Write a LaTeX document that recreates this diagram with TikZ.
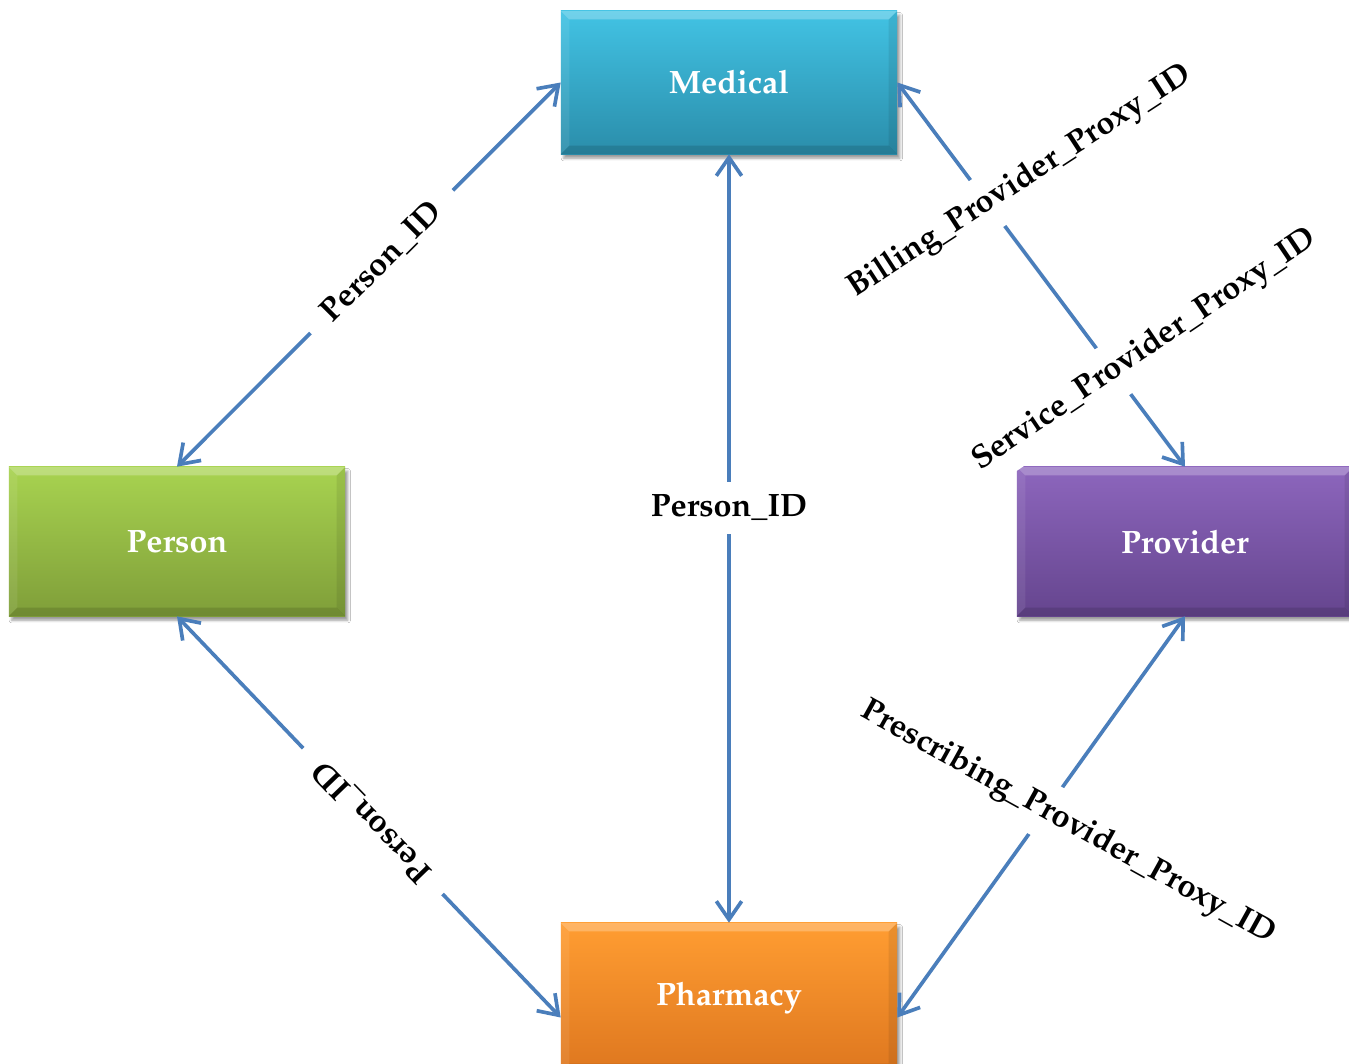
\documentclass[tikz,border=0pt]{standalone}
\usepackage[T1]{fontenc}
\usepackage{mathpazo}
\usetikzlibrary{arrows.meta,shadows.blur,calc}

\definecolor{medtop}{HTML}{42C3E4}
\definecolor{medbot}{HTML}{2A8DAA}
\definecolor{pertop}{HTML}{A8D350}
\definecolor{perbot}{HTML}{7F9E39}
\definecolor{protop}{HTML}{8D66BD}
\definecolor{probot}{HTML}{65458E}
\definecolor{phatop}{HTML}{FF9D32}
\definecolor{phabot}{HTML}{DE771F}
\definecolor{linkblue}{HTML}{4A7EBB}

\tikzset{
  entity/.style={rectangle, inner sep=0pt, minimum width=8.4cm, minimum height=3.725cm,
    text=white, font=\bfseries\fontsize{23}{27}\selectfont,
    blur shadow={shadow xshift=2pt, shadow yshift=-3pt, shadow opacity=40},
    path picture={
      \fill[white,opacity=0.25] (path picture bounding box.north west) -- (path picture bounding box.north east)
        -- ([xshift=-6pt,yshift=-6pt]path picture bounding box.north east) -- ([xshift=6pt,yshift=-6pt]path picture bounding box.north west) -- cycle;
      \fill[black,opacity=0.12] (path picture bounding box.south west) -- (path picture bounding box.south east)
        -- ([xshift=-6pt,yshift=6pt]path picture bounding box.south east) -- ([xshift=6pt,yshift=6pt]path picture bounding box.south west) -- cycle;
      \fill[white,opacity=0.08] (path picture bounding box.north west) -- ([xshift=6pt,yshift=-6pt]path picture bounding box.north west)
        -- ([xshift=6pt,yshift=6pt]path picture bounding box.south west) -- (path picture bounding box.south west) -- cycle;
      \fill[black,opacity=0.08] (path picture bounding box.north east) -- ([xshift=-6pt,yshift=-6pt]path picture bounding box.north east)
        -- ([xshift=-6pt,yshift=6pt]path picture bounding box.south east) -- (path picture bounding box.south east) -- cycle;
    }},
  link/.style={draw=linkblue, line width=2.6pt, {Straight Barb[length=13pt,width=18pt]}-{Straight Barb[length=13pt,width=18pt]}},
  idlabel/.style={fill=white, inner xsep=16pt, inner ysep=9pt, font=\bfseries\fontsize{23}{27}\selectfont}
}

\begin{document}
\begin{tikzpicture}[x=0.025cm,y=-0.025cm]
    \useasboundingbox (0,0) rectangle (1349,1064);
    \fill[white] (0,0) rectangle (1349,1064);

    %tables
    \node[entity, minimum height=3.575cm, top color=medtop, bottom color=medbot] (medical) at (729,82.5) {Medical};
    \node[entity, top color=pertop, bottom color=perbot] (person) at (177,541.5) {Person};
    \node[entity, top color=protop, bottom color=probot] (provider) at (1185,541.5) {Provider};
    \node[entity, top color=phatop, bottom color=phabot] (pharmacy) at (729,997.5) {Pharmacy};

    %keys
    \draw[link] (medical.west) -- (person.north);
    \draw[link] (medical.south) -- (pharmacy.north);
    \draw[link] (medical.east) -- (provider.north);
    \draw[link] (person.south) -- ($(pharmacy.west)+(0,20)$);
    \draw[link] (provider.south) -- ($(pharmacy.east)+(0,20)$);

    %labels
    \node[idlabel, rotate=45] (pid1) at (382,262) {Person\_ID};
    \node[idlabel] (pid2) at (729,508) {Person\_ID};
    \node[idlabel, rotate=134] (pid3) at (373,821) {Person\_ID};
    \node[idlabel, rotate=33] (billing) at (1020,182) {Billing\_Provider\_Proxy\_ID};
    \node[idlabel, rotate=34] (service) at (1145,350) {Service\_Provider\_Proxy\_ID};
    \node[idlabel, rotate=-29] (prescribing) at (1068,823) {Prescribing\_Provider\_Proxy\_ID};
\end{tikzpicture}
\end{document}
